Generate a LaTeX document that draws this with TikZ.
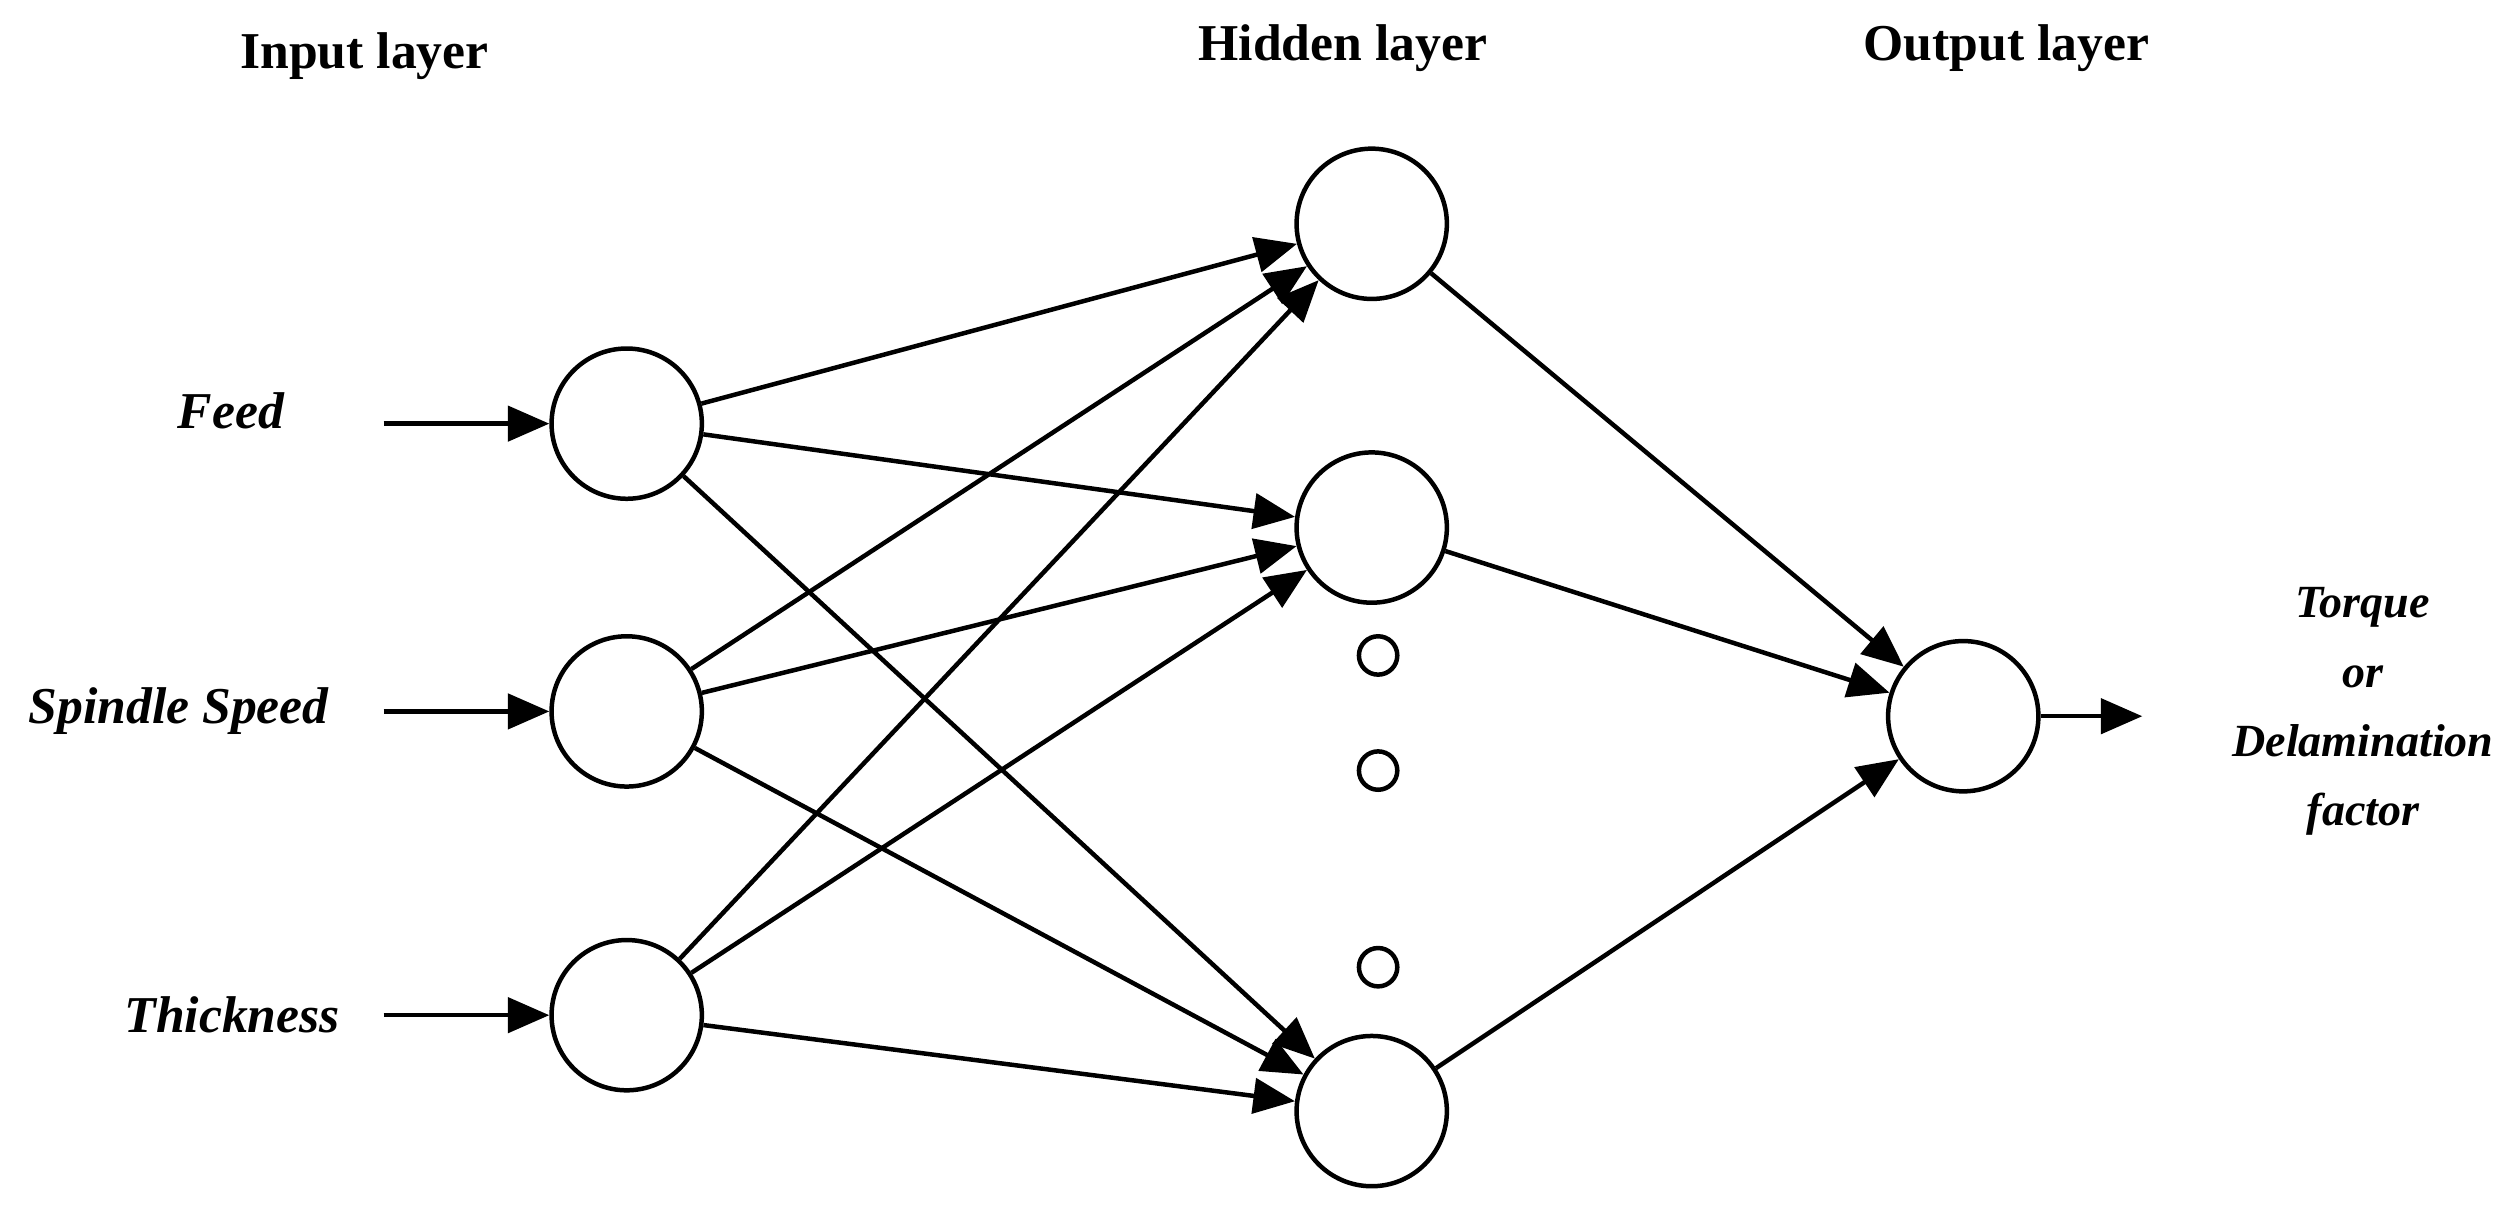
\documentclass[tikz,border=0pt]{standalone}
\usepackage{fontspec}
\setmainfont{Liberation Serif}
\usetikzlibrary{arrows.meta}
\tikzset{
% Node styles for the network: neurons and the small dots
neuron/.style={circle,draw,thick,minimum size=9.4mm,inner sep=0},
dot node/.style={circle,draw,thick,minimum size=2.4mm,inner sep=0},
link/.style={thick,-{Triangle[length=2.6mm,width=2.2mm]}}
}
\begin{document}
\begin{tikzpicture}[font=\bfseries\itshape\fontsize{9.2}{11.5}\selectfont]
        \useasboundingbox (0,0) rectangle (15.6,7.54);
        % Layer titles
        \node(tin) at (2.28,7.19) {\upshape Input layer};
        \node(thid) at (8.40,7.24) {\upshape Hidden layer};
        \node(tout) at (12.55,7.24) {\upshape Output layer};
        % Input layer
        \node(i1)[neuron] at (3.92,4.89) {};
        \node(i2)[neuron] at (3.92,3.09) {};
        \node(i3)[neuron] at (3.92,1.19) {};
        % Hidden layer
        \node(h1)[neuron] at (8.58,6.14) {};
        \node(h2)[neuron] at (8.58,4.24) {};
        \node(h3)[neuron] at (8.58,0.59) {};
        \node(d1)[dot node] at (8.62,3.44) {};
        \node(d2)[dot node] at (8.62,2.72) {};
        \node(d3)[dot node] at (8.62,1.49) {};
        % Output layer
        \node(o)[neuron] at (12.28,3.06) {};
        % Inputs
        \node(feed)[anchor=east] at (1.90,4.97) {Feed};
        \node(spin)[anchor=east] at (2.18,3.09) {Spindle Speed};
        \node(thick)[anchor=east] at (2.25,1.19) {Thickness};
        \coordinate(a1) at (2.40,4.89);
        \coordinate(a2) at (2.40,3.09);
        \coordinate(a3) at (2.40,1.19);
        \foreach \i in {1,2,3}
          \draw[link] (a\i) -- (i\i);
        % Connections
        \foreach \i in {1,2,3}
          \foreach \h in {1,2,3}
            \draw[link] (i\i) -- (h\h);
        \foreach \h in {1,2,3}
          \draw[link] (h\h) -- (o);
        % Output
        \coordinate(b) at (13.40,3.06);
        \draw[link] (o) -- (b);
        \node(res)[align=center,inner sep=0,font=\bfseries\itshape\fontsize{8.2}{12.3}\selectfont]
          at (14.78,3.09) {Torque\\or\\Delamination\\factor};
      \end{tikzpicture}
\end{document}
